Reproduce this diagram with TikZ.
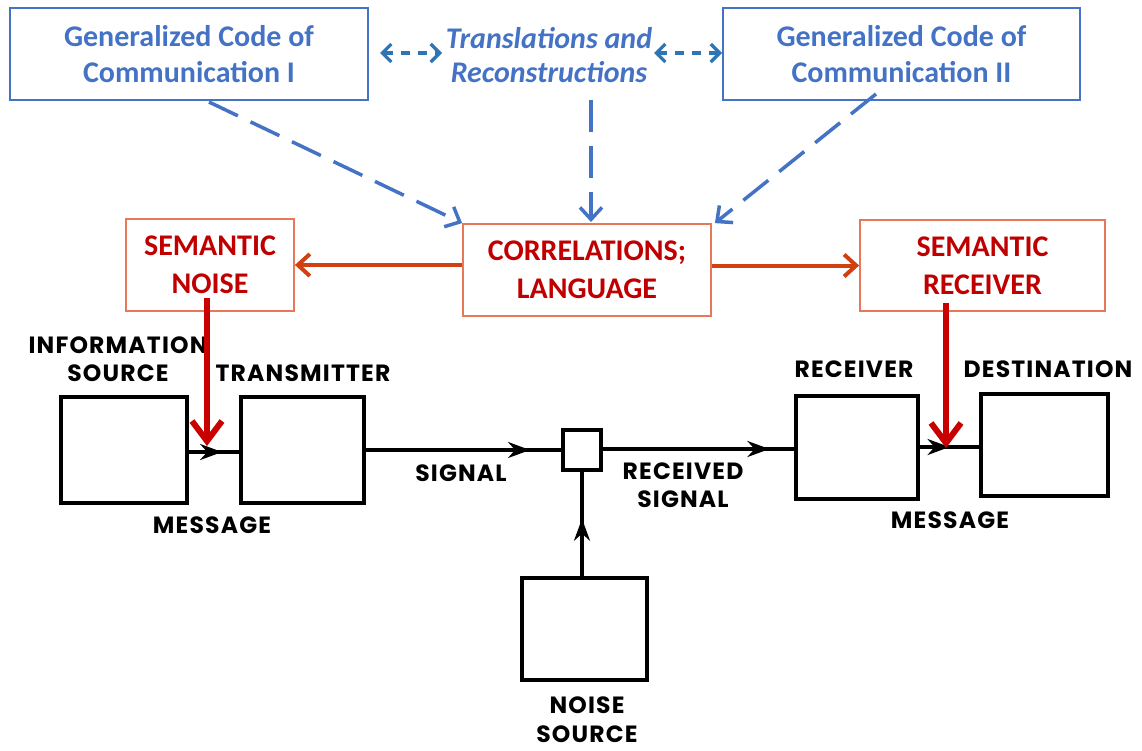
\documentclass[tikz,border=0pt]{standalone}
\usepackage{fontspec}
\setmainfont{Carlito}
\newfontfamily\labfont[LetterSpace=5]{Poppins}
\usetikzlibrary{arrows.meta,decorations.markings}
\definecolor{cblue}{RGB}{68,114,196}
\definecolor{dblue}{RGB}{46,117,182}
\definecolor{tred}{RGB}{192,0,0}
\definecolor{boxred}{RGB}{232,120,90}
\definecolor{ored}{RGB}{208,64,16}
\definecolor{ared}{RGB}{200,0,0}
\tikzset{
  bluebox/.style={draw=cblue,line width=1.5pt,inner sep=0pt,
    text=cblue,font=\fontsize{30}{36}\selectfont\bfseries,align=center},
  redbox/.style={draw=boxred,line width=1.8pt,inner sep=0pt,
    text=tred,font=\fontsize{30}{38}\selectfont\bfseries,align=center},
  blackbox/.style={draw=black,line width=3.4pt,inner sep=0pt},
  lab/.style={font=\labfont\bfseries\fontsize{23.5}{28}\selectfont,align=center,inner sep=0pt},
  bluedash/.style={draw=cblue,line width=3.5pt,dash pattern=on 32pt off 14pt,
    -{Straight Barb[length=12pt,width=22pt]}},
  dotarrow/.style={draw=dblue,line width=3.2pt,dash pattern=on 9pt off 8pt,
    {Straight Barb[length=9pt,width=18pt]}-{Straight Barb[length=9pt,width=18pt]}},
  orarrow/.style={draw=ored,line width=4pt,-{Straight Barb[length=12pt,width=22pt]}},
  redarrow/.style={draw=ared,line width=6pt,-{Straight Barb[length=20pt,width=30pt]}},
  sig/.style={draw=black,line width=3.2pt},
  midarrow/.style={postaction={decorate},decoration={markings,
    mark=at position #1 with {\arrow{Stealth[length=22pt,width=16pt]}}}},
}
\begin{document}
\begin{tikzpicture}[x=1pt,y=-1pt]
\useasboundingbox (0,0) rectangle (1142,750);
% top boxes
\node[bluebox,minimum width=358pt,minimum height=92pt] (gc1) at (189,54)
  {Generalized Code of\\Communication I};
\node[bluebox,minimum width=357pt,minimum height=92pt] (gc2) at (901.5,54)
  {Generalized Code of\\Communication II};
\node[text=cblue,font=\fontsize{30}{34}\selectfont\bfseries\itshape,align=center,inner sep=0pt]
  (trans) at (549,55) {Translations and\\Reconstructions};
% red boxes
\node[redbox,minimum width=248pt,minimum height=92pt] (corr) at (587,270)
  {CORRELATIONS;\\LANGUAGE};
\node[redbox,minimum width=168pt,minimum height=92pt] (sn) at (210,265)
  {SEMANTIC\\NOISE};
\node[redbox,minimum width=245pt,minimum height=91pt] (sr) at (982.5,265.5)
  {SEMANTIC\\RECEIVER};
% black boxes
\node[blackbox,minimum width=126pt,minimum height=106pt] (is) at (124,450) {};
\node[blackbox,minimum width=123pt,minimum height=106pt] (tx) at (302.5,450) {};
\node[blackbox,minimum width=38pt,minimum height=40pt] (mix) at (582,450) {};
\node[blackbox,minimum width=122pt,minimum height=103pt] (rx) at (857,447.5) {};
\node[blackbox,minimum width=127pt,minimum height=102pt] (dst) at (1044.5,445) {};
\node[blackbox,minimum width=125pt,minimum height=102pt] (ns) at (584.5,629) {};
% labels
\node[lab] (l1) at (118,359) {INFORMATION\\SOURCE};
\node[lab] (l2) at (303,373) {TRANSMITTER};
\node[lab] (l3) at (212,525) {MESSAGE};
\node[lab] (l4) at (461,473) {SIGNAL};
\node[lab] (l5) at (683,485.5) {RECEIVED\\SIGNAL};
\node[lab] (l6) at (854,369) {RECEIVER};
\node[lab] (l7) at (1048,369) {DESTINATION};
\node[lab] (l8) at (950,520) {MESSAGE};
\node[lab,font=\labfont\bfseries\fontsize{23.5}{29}\selectfont] (l9) at (587,720) {NOISE\\SOURCE};
% coordinates
\coordinate (d1a) at (380,53);
\coordinate (d1b) at (442,53);
\coordinate (d2a) at (654,53);
\coordinate (d2b) at (722,53);
\coordinate (b1s) at (209,102);
\coordinate (b2s) at (876,94);
\coordinate (b3s) at (591,100);
\coordinate (b3e) at (591,222);
\coordinate (m1) at (207,446);
\coordinate (m2) at (946,448);
% blue connectors
\draw[dotarrow] (d1a) -- (d1b);
\draw[dotarrow] (d2a) -- (d2b);
\draw[bluedash] (b1s) -- (corr.north west);
\draw[bluedash] (b3s) -- (b3e);
\draw[bluedash] (b2s) -- ([xshift=3pt]corr.north east);
% orange connectors
\draw[orarrow] (corr.west |- sn.east) -- (sn.east);
\draw[orarrow] (corr.east |- sr.west) -- (sr.west);
% black signal path
\draw[sig,midarrow=0.66] (is.east |- 0,452) -- (tx.west |- 0,452);
\draw[sig,midarrow=0.84] (tx.east |- 0,450) -- (mix.west |- 0,450);
\draw[sig,midarrow=0.87] (mix.east |- 0,449) -- (rx.west |- 0,449);
\draw[sig,midarrow=0.5] (rx.east |- 0,447) -- (dst.west |- 0,447);
\draw[sig,midarrow=0.55] (ns.north -| mix.south) -- (mix.south);
% red arrows
\draw[redarrow] ([yshift=14pt]sn.south -| m1) -- (m1);
\draw[redarrow] ([yshift=9pt]sr.south -| m2) -- (m2);
\end{tikzpicture}
\end{document}
